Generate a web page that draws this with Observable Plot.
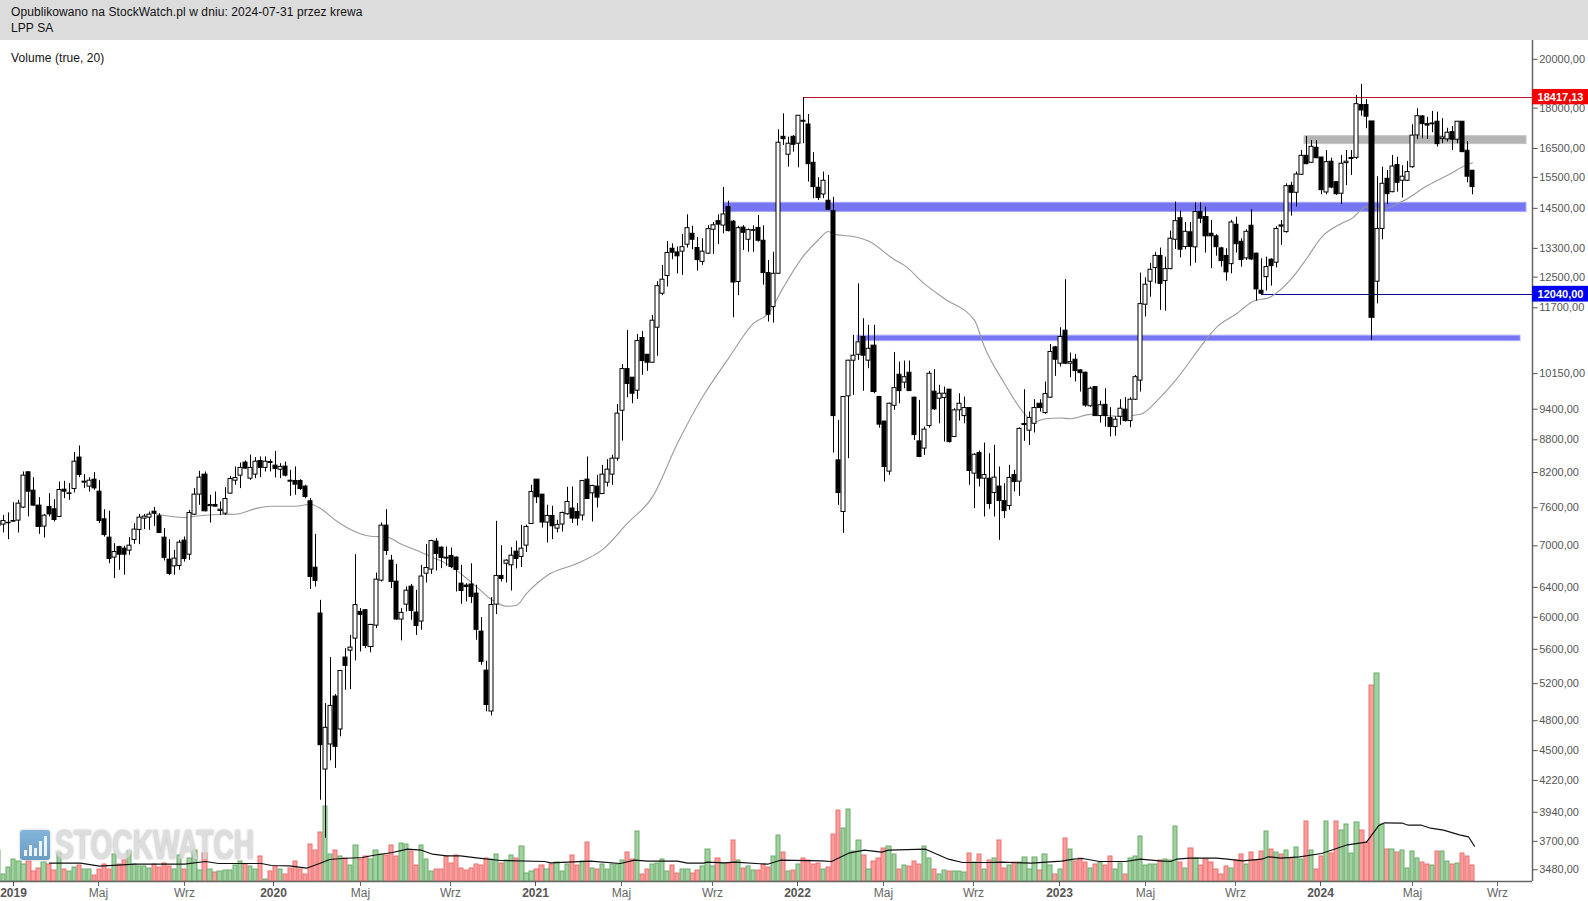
<!DOCTYPE html>
<html lang="pl">
<head>
<meta charset="utf-8">
<script src="https://cdn.jsdelivr.net/npm/d3@7"></script>
<script src="https://cdn.jsdelivr.net/npm/@observablehq/plot@0.6"></script>
<style>
html,body{margin:0;padding:0;background:#fff;overflow:hidden;font-family:"Liberation Sans",Arial,sans-serif}
#head{height:40px;background:#dcdcdc;color:#111;font-size:12px;line-height:15.6px;padding:5px 0 0 11px;box-sizing:border-box;letter-spacing:.085px}
#stage{position:relative;width:1588px;height:861px}
#vol{position:absolute;left:11px;top:10.5px;font-size:12px;color:#111;z-index:5;letter-spacing:.08px}
#mark{position:absolute;left:20px;top:790px;height:30px;z-index:1;opacity:.82}
#icon{position:absolute;left:0;top:0;width:30px;height:30px;border-radius:3px;background:linear-gradient(#68a5d2,#4c86b4);box-shadow:0 0 3px #bbb}
#icon i{position:absolute;bottom:4px;width:3px;background:#e8f2f8}
#word{position:absolute;left:35px;top:-7px;font-size:42px;line-height:44px;font-weight:700;color:#d6d6d6;text-shadow:0 0 3px #aaa;white-space:nowrap;transform:scaleX(.67);transform-origin:left center}
</style>
</head>
<body>
<div id="head">Opublikowano na StockWatch.pl w dniu: 2024-07-31 przez krewa<br>LPP SA</div>
<div id="stage">
<div id="vol">Volume (true, 20)</div>
<div id="mark"><div id="icon"><i style="left:4px;height:6px"></i><i style="left:9px;height:11px"></i><i style="left:14px;height:8px"></i><i style="left:19px;height:15px"></i><i style="left:24px;height:20px"></i></div><div id="word">STOCKWATCH</div></div>
</div>
<script>
const opens = [
7306,7328,7350,7375,7392,7602,8204,7885,7635,7297,
7613,7574,7451,7902,7830,7914,8469,8023,7955,8075,
7868,7413,7125,6825,6983,6958,6928,7089,7245,7424,
7440,7536,7461,7125,6795,6697,6702,7079,6868,7487,
7818,8163,7626,7646,7547,7503,7835,8057,8145,8377,
8092,8163,8406,8283,8388,8323,8250,8306,8057,8051,
8051,7955,7707,6678,6049,4320,4560,5057,4710,5501,
5584,5730,6070,6092,5628,5893,6494,7312,6780,6480,
5971,6166,6410,6062,5945,6592,6650,7064,6973,6825,
6850,6825,6452,6425,6440,6315,5818,5348,4896,6166,
6560,6735,6712,6913,6835,7003,7338,8075,7818,7361,
7466,7265,7330,7494,7587,7530,7473,8075,7840,7955,
7828,8022,8163,8449,9370,10250,10062,9784,10962,10572,
10392,11208,12060,12530,13290,13185,13206,13405,13726,13310,
12918,13150,13846,14105,13970,14540,14090,12370,13910,13550,
13815,13900,13521,12610,11718,12591,16920,16278,16920,16670,
17515,17375,15998,15160,14940,14740,14414,8418,7530,9665,
10438,10572,10985,10438,10782,9650,9152,8216,9470,10126,
9955,10170,9637,8770,8634,9065,9763,9615,9630,9805,
8853,9377,9262,9424,8180,8552,8092,8092,7845,7955,
7710,7628,8155,8040,9085,8975,9110,9512,9323,9637,
10742,10370,11136,10370,10460,10222,10170,9460,9860,9262,
9490,9223,9045,9248,9391,9163,9595,9998,11778,12377,
12746,13085,12393,12718,13550,14195,13340,13770,13330,14385,
14230,13726,13650,13300,13085,12855,13995,13490,13015,13965,
13150,12140,12500,12979,12895,13975,13775,15222,14995,15590,
16240,15998,16525,16180,15005,16035,15343,14965,15985,16130,
16170,18120,18120,17490,12377,13870,15455,15015,15920,15390,
15390,15845,16970,17680,17390,17385,17480,16835,16825,17090,
16815,17480,16420,15725];
const highs = [
7424,7476,7515,7684,7723,8210,8210,8110,7768,7492,
7835,7734,8034,8046,8005,8560,8683,8163,8110,8198,
8057,7568,7542,7034,6993,6993,7125,7344,7492,7492,
7531,7606,7503,7265,7094,6933,7084,7135,7558,7920,
8222,8210,7807,7862,7696,7936,8133,8300,8370,8406,
8514,8469,8480,8480,8430,8583,8358,8388,8239,8300,
8075,7977,7750,7176,6224,4981,5501,5078,5344,5608,
5770,6868,6114,6100,5910,6601,7355,7569,6858,6727,
6114,6405,6442,6360,6712,7022,7084,7110,6983,6983,
6968,6835,6712,6452,6735,6430,5997,5458,6260,7380,
7003,6795,6973,7070,7318,7320,7977,8075,7818,7640,
7624,7397,7530,7943,7948,7669,8063,8479,7977,8150,
8328,8431,8511,9497,10350,11143,10062,11047,11119,10572,
11508,12375,12820,13500,13433,13340,13707,14300,13950,13620,
13580,13965,14065,14300,15166,14725,14127,13950,13970,13870,
13965,14280,13965,12959,13190,17180,17780,16905,16965,17715,
18417,17755,16350,15490,15680,15567,14850,9177,9665,10445,
11025,12320,11427,11265,11265,9665,9163,9525,10625,10407,
10429,10429,9650,9581,9045,10200,10238,9897,9860,9811,
9411,9720,9650,9432,8540,8590,8738,8540,8695,8298,
8005,8328,8239,9030,9805,9343,9595,9595,9968,10810,
10765,11208,12431,10612,10580,10238,10185,9860,9860,9565,
9825,9432,9248,9595,9637,9637,10110,12610,12480,12875,
13190,13310,13050,13805,14697,14414,14065,14065,14675,14675,
14540,14127,13700,13330,13290,14130,14225,13580,13846,14457,
13166,13005,13050,13005,13935,14127,15290,15340,15680,16429,
16930,16787,16787,16190,16429,16158,15365,16255,16429,16429,
18499,18950,18330,17490,15525,15845,15735,16255,16190,15895,
16045,17365,17975,17715,17645,17870,17845,17595,17235,17300,
17480,17480,16750,15735];
const lows = [
7239,7198,7094,7370,7198,7586,7451,7626,7176,7120,
7451,7370,7440,7750,7723,7846,8110,7920,7862,7891,
7344,7134,6735,6525,6640,6570,6858,7023,7018,7250,
7239,7302,7188,6775,6565,6570,6640,6760,6785,7476,
7640,7531,7354,7613,7476,7476,7824,7977,7920,8258,
8063,8092,8110,8210,8210,8104,8092,8122,7790,7807,
7891,7750,6370,6406,4044,3725,4402,4330,4636,5126,
5133,5461,5568,5608,5557,5855,6475,6857,6385,5962,
5702,6070,5962,5770,5835,6462,6582,6630,6664,6698,
6664,6337,6171,6202,6180,5710,5410,4893,4850,6035,
6475,6462,6350,6660,6680,6900,7330,7669,7275,7043,
7095,7199,7212,7478,7345,7307,7386,7735,7370,7596,
7824,7948,7977,8400,8776,9637,9512,9600,10113,10200,
10384,10540,12010,12234,12979,12591,12547,13310,13262,12664,
12820,13130,13130,13405,13726,13780,11450,12010,13242,13190,
13190,13480,12285,11345,11320,12572,16607,15845,16370,15825,
16670,15343,14805,14749,14805,14435,8552,7640,7190,8449,
9685,10445,9770,10258,9720,9025,8033,8150,9377,9512,
9825,9770,8789,8468,8510,9025,9377,9110,8757,8738,
8842,9163,9110,7977,7585,7948,7450,7575,7450,7084,
7424,7558,7862,7790,8770,8695,8930,9343,9297,9623,
10090,10295,10350,10062,9968,9755,9440,9440,9255,9123,
9045,8853,8867,9080,9143,9032,9581,9755,11468,11970,
12320,11634,11616,12700,13270,13030,13262,12795,12880,14030,
13166,12730,13080,12775,12393,12591,13166,12775,12959,12959,
11870,12040,12130,12260,12750,13385,13745,14260,14540,15567,
15930,15975,16135,14930,14930,15125,14910,14620,15230,15567,
16115,17690,17217,10905,11800,13550,14620,14995,15015,14825,
15365,15810,16825,16845,16825,17070,16550,16670,16730,16429,
16670,16350,15320,14930];
const closes = [
7370,7386,7358,7386,7668,8145,7868,7635,7292,7471,
7492,7402,7897,7868,7840,8394,8157,8040,8057,7925,
7386,7165,6805,6908,6868,6868,7003,7250,7440,7456,
7488,7503,7198,6820,6590,6810,7048,6805,7515,7818,
8110,7542,7646,7618,7568,7745,8086,8104,8283,8270,
8283,8394,8283,8394,8370,8264,8300,8145,8040,7988,
7914,7779,6546,6490,4553,4727,4956,4537,5344,5403,
5620,6160,6032,5640,5902,6508,7312,6923,6475,5971,
6058,6355,6083,5889,6552,6674,7074,6879,6820,6810,
6688,6645,6350,6405,6270,5840,5450,4966,6162,6560,
6517,6780,6853,6805,6958,7292,7862,7773,7361,7466,
7302,7324,7515,7695,7424,7424,8050,7745,7966,7768,
8163,8251,8449,9311,10250,9925,9720,10889,10429,10392,
11379,12259,12431,13166,13177,13074,13335,13893,13550,12968,
13206,13864,13980,14000,14310,13805,12355,13893,13755,13835,
13835,13521,12610,11526,12591,16705,16833,16670,16632,17707,
17480,15950,15180,14825,15390,14457,9262,7845,9650,10438,
10550,10860,10550,10710,9755,9093,8298,9512,9838,9775,
10073,9775,8890,8479,8995,10148,9397,9720,9720,8757,
9377,9512,9424,8227,8520,8092,8155,7661,8110,7710,
7545,8105,8033,9010,9105,9223,9424,9424,9712,10635,
10460,10985,10370,10407,10206,10162,9475,9825,9262,9480,
9262,9045,9190,9411,9163,9595,10073,11793,12298,12700,
13085,12320,12718,13580,14105,13262,13785,13340,14385,14180,
13650,13650,13335,12940,12630,14065,13420,12968,13785,12987,
12173,12060,12775,12800,13870,13940,15210,14995,15600,16240,
15950,16560,16158,15080,16020,15165,14950,15965,16035,16165,
18155,17909,17670,11450,13870,15290,14950,15870,15320,15525,
15680,16965,17690,17390,17335,17415,16655,16895,17070,16815,
17480,16370,15525,15180];
const volumes = [
31,7,14,22,20,17,20,10,13,19,
17,11,28,12,10,14,16,12,12,6,
12,17,12,27,17,21,30,17,15,15,
13,17,14,18,15,12,26,12,23,31,
11,28,12,9,10,11,11,16,20,17,
15,12,25,2,10,15,12,7,13,20,
12,7,37,31,49,75,27,31,25,23,
16,36,22,25,22,31,27,26,36,25,
38,37,30,16,36,22,10,12,12,25,
18,26,13,11,13,17,16,23,22,27,
18,21,26,23,35,8,10,12,16,12,
17,19,10,17,26,16,20,39,13,12,
17,12,17,17,21,29,22,50,7,12,
17,18,22,10,16,8,12,12,8,11,
15,32,15,23,18,18,41,21,13,15,
11,11,17,14,25,46,29,10,11,17,
23,21,17,18,12,14,47,71,53,72,
30,41,26,12,20,23,33,35,27,12,
16,15,20,17,35,23,12,7,11,10,
10,10,9,28,19,27,12,21,23,41,
13,16,19,19,24,12,24,11,27,16,
7,12,43,32,20,23,19,13,17,19,
16,25,12,18,7,23,25,45,16,17,
17,21,22,21,55,19,13,33,23,16,
22,19,12,7,15,13,21,27,17,29,
21,30,50,32,29,27,31,23,34,22,
60,31,12,25,60,28,60,51,57,28,
59,51,39,196,208,57,32,32,29,31,
13,30,23,19,17,16,30,30,20,17,
18,28,25,16];
const smaWeek = [30,33,36,38,43,46,50,53,58,61,63,66,69,73,76,79,82,85,88,91,94,97,100,102,104,108,114,119,124,129,134,139,144,149,152,155,159,162,164,165,169,172,177,179,183,187,193,195,199,203,205,207,210,212,216,222,226,230,233,239,241,245,248,252,256,259,262,266,268,271,274,278,283,287,291,292];
const smaPrice = [7505,7462,7440,7462,7490,7494,7586,7624,7624,7657,7586,7397,7250,7146,7136,7024,6933,6834,6737,6584,6407,6233,6145,6158,6315,6570,6741,6943,7350,7780,8733,9650,10490,11313,11560,12234,13085,13550,13795,13707,13647,13510,12980,12820,12320,11930,11386,10750,9935,9311,9143,9210,9223,9210,9297,9255,9297,9650,10004,10905,11215,11550,11843,11990,12457,13005,13620,14035,14180,14540,14480,14720,15230,15570,15940,16000];
const vmaWeek = [9,15.3,19,22.7,26,36,40,42.7,51.3,53.3,56.7,60.1,62.7,64.7,67.3,71.3,73.3,77.3,80.3,83,85.3,88,90.7,94,98.7,107.4,108.7,116.7,122.7,125.4,128,134,136,139.2,139.9,143.2,145.2,151.9,154.5,162.5,164.5,167.9,171.2,174.5,175.9,183.2,187.9,190.5,195.9,198.5,204.3,210.3,212.6,214.4,217.8,223,226,229.8,232,233.2,235.8,241,243.3,246.3,250,251.5,253.8,257.5,262,267.2,271,273.2,274.4,278.1,279.2,281.8,283.7,286.3,289.3,291.2,292.3];
const vmaValue = [18.3,18.3,15.3,16.3,17.3,17.3,20,18,18,16,15.7,13.3,18,22,23,24,26,29,32.3,31.3,27.3,25.7,25.7,23.7,21,20,18.7,20.3,18,21.3,20.3,20.3,18.3,18.3,19.3,18.7,19.3,17.3,21.3,20.7,20,28.3,31.3,29.3,31.3,32.3,22.3,19,19,19.3,18.3,20.3,22.3,23,20,20,22.3,20.7,20,22.3,23.3,23.3,22.3,20.7,22.3,24.7,23.3,24.7,28,36.7,39.3,55.7,58.7,58.3,56.3,56.3,53.3,51.3,46.7,44.7,35.3];
const priceTicks = [20000,18000,16500,15500,14500,13300,12500,11700,10150,9400,8800,8200,7600,7000,6400,6000,5600,5200,4800,4500,4220,3940,3700,3480];
const yearTicks = [2,53.6,105.7,157.7,209.9,261.8];
const yearLabels = ["2019","2020","2021","2022","2023","2024"];
const monthTicks = [18.8,35.9,71,88.8,122.8,140.9,174.9,192.8,226.9,244.9,280,297];
const monthLabels = ["Maj","Wrz","Maj","Wrz","Maj","Wrz","Maj","Wrz","Maj","Wrz","Maj","Wrz"];
const resistance = 18417.13, support = 12040;
const zones = [
 {from:143, to:302.7, lo:14383, hi:14675, fill:"#7676f4", edge:"#a9a9f8"},
 {from:169.7, to:301.5, lo:10888, hi:11016, fill:"#7676f4", edge:"#a9a9f8"},
 {from:258.6, to:302.7, lo:16655, hi:16943, fill:"#b4b4b4", edge:"#c4c4c4"}
];

if ([highs,lows,closes,volumes].some(a=>a.length!==opens.length)) throw new Error("length "+[opens,highs,lows,closes,volumes].map(a=>a.length));
if (smaWeek.length!==smaPrice.length||vmaWeek.length!==vmaValue.length) throw new Error("line lengths "+[smaWeek.length,smaPrice.length,vmaWeek.length,vmaValue.length]);

const candles = opens.map((o,k)=>({i:k-1,o,h:highs[k],l:lows[k],c:closes[k],v:volumes[k],up:closes[k]>=o}));
const sma = smaWeek.map((i,k)=>({i,p:smaPrice[k]}));
const vma = vmaWeek.map((i,k)=>({i,v:vmaValue[k]}));
const priceFmt = d=>d.toFixed(2).replace(".",",");
const xDomain=[-0.656,303.85], xEdge=315.1;
const W=1588,H=861,base=841,right=1531.7;
const frame={position:"absolute",left:0,top:0,background:"transparent",overflow:"visible",fontFamily:"'Liberation Sans',Arial,sans-serif",fontSize:"11px"};

const volPlot=Plot.plot({width:W,height:H,marginLeft:0,marginRight:56.3,marginTop:0,marginBottom:20,style:frame,
 x:{domain:xDomain,range:[0,right],round:true,axis:null},y:{domain:[0,base],range:[base,0],axis:null},
 marks:[
  Plot.rect(candles.filter(d=>!d.up),{x1:d=>d.i-.42,x2:d=>d.i+.42,y1:0,y2:"v",fill:"#ff9c9c",stroke:"#e77272",strokeWidth:1}),
  Plot.rect(candles.filter(d=>d.up),{x1:d=>d.i-.42,x2:d=>d.i+.42,y1:0,y2:"v",fill:"#a0d2a0",stroke:"#6ea96e",strokeWidth:1}),
  Plot.line(vma,{x:"i",y:"v",stroke:"#111",strokeWidth:1.2})
 ]});

const pricePlot=Plot.plot({width:W,height:H,marginLeft:0,marginRight:56.3,marginTop:0,marginBottom:20,style:{...frame,zIndex:2},
 x:{domain:xDomain,range:[0,right],round:true},y:{type:"log",domain:[3393,20828],range:[base,0]},
 marks:[
  Plot.rect(zones,{x1:"from",x2:"to",y1:"lo",y2:"hi",fill:"fill",stroke:"edge",strokeWidth:1}),
  Plot.ruleY([resistance],{x1:159,x2:xDomain[1],stroke:"#b8142e",strokeWidth:1}),
  Plot.ruleY([support],{x1:250,x2:xDomain[1],stroke:"#0a0a8c",strokeWidth:1}),
  Plot.line(sma,{x:"i",y:"p",stroke:"#9a9a9a",strokeWidth:1.1,curve:"monotone-x"}),
  Plot.ruleX(candles,{x:"i",y1:"l",y2:"h",stroke:"#000",strokeWidth:1}),
  Plot.rect(candles,{x1:d=>d.i-.4,x2:d=>d.i+.4,y1:"o",y2:"c",fill:d=>d.up?"#fff":"#000",stroke:"#000",strokeWidth:1}),
  Plot.ruleX([xDomain[1]],{y1:3393,y2:20828,stroke:"#666",strokeWidth:1.5}),
  Plot.ruleY([3393],{x1:xDomain[0],x2:xDomain[1],stroke:"#666",strokeWidth:1.5}),
  Plot.axisY({anchor:"right",ticks:priceTicks,tickFormat:priceFmt,tickSize:5,tickPadding:2,label:null,color:"#555",fontSize:11}),
  Plot.axisX({anchor:"bottom",ticks:yearTicks,tickFormat:d=>yearLabels[yearTicks.indexOf(d)],tickSize:5,tickPadding:2,label:null,color:"#555",fontWeight:"bold",fontSize:12}),
  Plot.axisX({anchor:"bottom",ticks:monthTicks,tickFormat:d=>monthLabels[monthTicks.indexOf(d)],tickSize:5,tickPadding:2,label:null,color:"#666",fontSize:12}),
  Plot.rect([{a:xDomain[1],b:xEdge,lo:18130,hi:18740,f:"#f30000"},{a:xDomain[1],b:xEdge,lo:11845,hi:12254,f:"#0000f0"}],{x1:"a",x2:"b",y1:"lo",y2:"hi",fill:"f"}),
  Plot.text([{x:(xDomain[1]+xEdge)/2,y:resistance,t:priceFmt(resistance)},{x:(xDomain[1]+xEdge)/2,y:support,t:priceFmt(support)}],{x:"x",y:"y",text:"t",fill:"#fff",fontWeight:"bold",fontSize:11})
 ]});

const stage=document.getElementById("stage");
stage.append(volPlot);
stage.append(pricePlot);
</script>
</body>
</html>
